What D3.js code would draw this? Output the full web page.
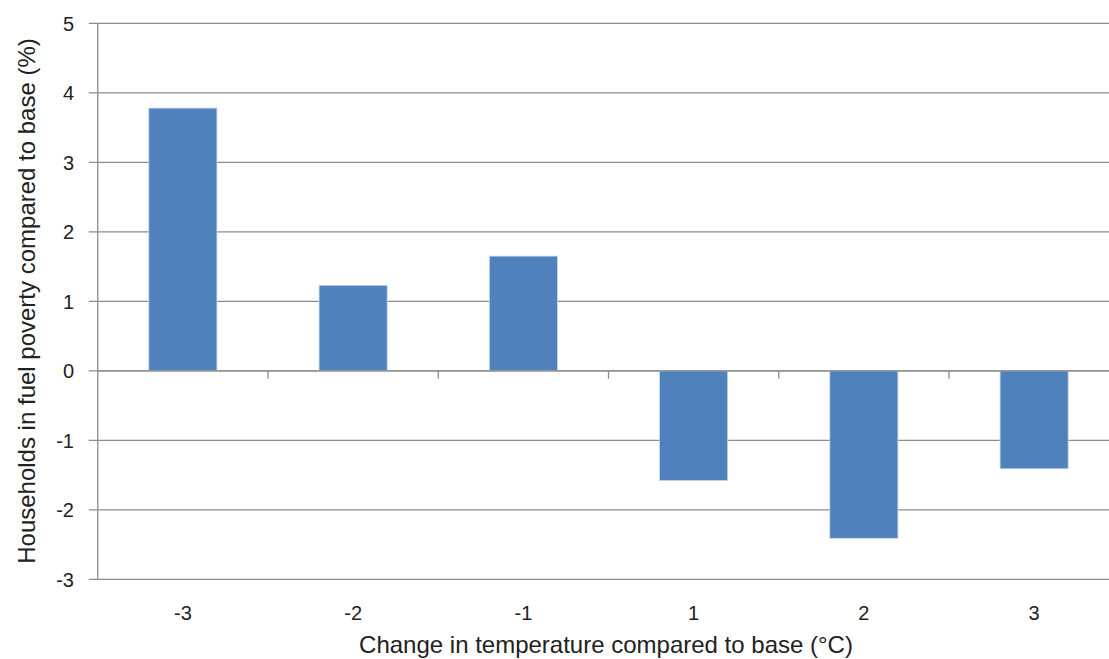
<!DOCTYPE html>
<html><head><meta charset="utf-8">
<script src="https://cdn.jsdelivr.net/npm/d3@7/dist/d3.min.js"></script>
<style>body{margin:0;background:#fff;overflow:hidden}svg{display:block}text{font-family:"Liberation Sans",Arial,sans-serif;fill:#222}</style>
</head><body><svg id="c" width="1109" height="659"></svg>
<script>
const categories = ["-3","-2","-1","1","2","3"];
const values = [3.78, 1.23, 1.65, -1.58, -2.41, -1.41];
const yTicks = [-3,-2,-1,0,1,2,3,4,5];
const xTitle = "Change in temperature compared to base (°C)";
const yTitle = "Households in fuel poverty compared to base (%)";

(function () {
const svg = d3.select("#c");
const pLeft = 97.75, pRight = 1119.25, pTop = 23.3, pBottom = 579.3;
const x = d3.scaleBand().domain(categories).range([pLeft, pRight]).paddingInner(0.6).paddingOuter(0.3);
const y = d3.scaleLinear().domain([-3,5]).range([pBottom, pTop]);

svg.append("g").selectAll("line").data(yTicks).join("line")
  .attr("x1", pLeft - 9).attr("x2", pRight)
  .attr("y1", d => y(d)).attr("y2", d => y(d))
  .attr("stroke", "#8c8c8c").attr("stroke-width", 1.3);
svg.append("line").attr("x1", pLeft).attr("x2", pLeft).attr("y1", pTop).attr("y2", pBottom)
  .attr("stroke", "#8c8c8c").attr("stroke-width", 1.3);
svg.append("g").selectAll("text").data(yTicks).join("text")
  .attr("x", 74).attr("y", d => y(d)).attr("dy", "0.36em").attr("text-anchor", "end")
  .attr("font-size", 20).text(d => d);

svg.append("g").selectAll("rect").data(values).join("rect")
  .attr("x", (d, i) => x(categories[i]))
  .attr("width", x.bandwidth())
  .attr("y", d => y(Math.max(0, d)))
  .attr("height", d => Math.abs(y(d) - y(0)))
  .attr("fill", "#4f81bd").attr("stroke", "#c9d7ea").attr("stroke-width", 0.8);

const step = x.step();
svg.append("line").attr("x1", pLeft).attr("x2", pRight).attr("y1", y(0)).attr("y2", y(0))
  .attr("stroke", "#8c8c8c").attr("stroke-width", 1.3);
svg.append("g").selectAll("line").data(d3.range(1, categories.length)).join("line")
  .attr("x1", i => pLeft + i * step).attr("x2", i => pLeft + i * step)
  .attr("y1", y(0)).attr("y2", y(0) + 8)
  .attr("stroke", "#8c8c8c").attr("stroke-width", 1.3);

svg.append("g").selectAll("text").data(categories).join("text")
  .attr("x", d => x(d) + x.bandwidth() / 2).attr("y", 613).attr("dy", "0.36em")
  .attr("text-anchor", "middle").attr("font-size", 20).text(d => d);

svg.append("text").attr("x", 606).attr("y", 653).attr("text-anchor", "middle")
  .attr("font-size", 24).text(xTitle);
svg.append("text").attr("transform", "translate(35,301) rotate(-90)")
  .attr("text-anchor", "middle").attr("font-size", 24).text(yTitle);
})();
</script></body></html>
